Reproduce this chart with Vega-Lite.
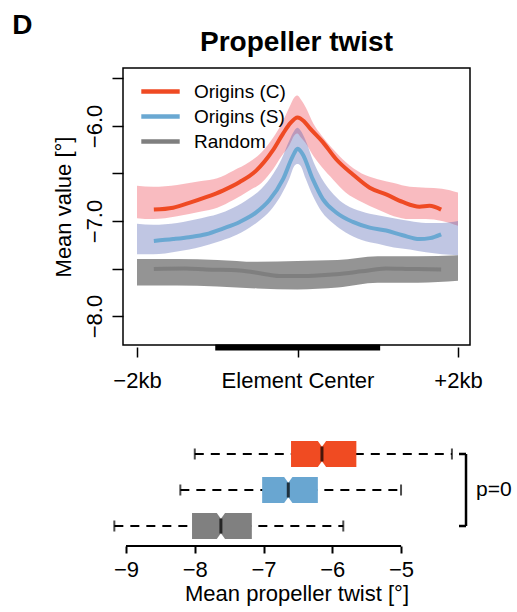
{
  "$schema": "https://vega.github.io/schema/vega-lite/v6.json",
  "padding": {"left": 12, "top": 12, "right": 5, "bottom": 2},
  "bounds": "flush",
  "spacing": 89,
  "resolve": {"scale": {"color": "independent", "x": "independent", "y": "independent"}, "legend": {"color": "independent"}},
  "title": {"text": "D", "anchor": "start", "frame": "bounds", "fontSize": 28, "fontWeight": "bold", "color": "black", "dx": -39, "offset": -12},
  "config": {"font": "Liberation Sans", "view": {"stroke": null}, "axis": {"labelColor": "black", "titleColor": "black", "tickColor": "black", "grid": false}},
  "datasets": {
    "bands": [
      {"series": "Origins (C)", "bp": -2000, "hi": -6.63, "lo": -6.97},
      {"series": "Origins (C)", "bp": -1800, "hi": -6.64, "lo": -6.98},
      {"series": "Origins (C)", "bp": -1500, "hi": -6.62, "lo": -6.95},
      {"series": "Origins (C)", "bp": -1200, "hi": -6.58, "lo": -6.9},
      {"series": "Origins (C)", "bp": -1000, "hi": -6.55, "lo": -6.86},
      {"series": "Origins (C)", "bp": -800, "hi": -6.47, "lo": -6.78},
      {"series": "Origins (C)", "bp": -600, "hi": -6.38, "lo": -6.68},
      {"series": "Origins (C)", "bp": -450, "hi": -6.28, "lo": -6.6},
      {"series": "Origins (C)", "bp": -300, "hi": -6.12, "lo": -6.45},
      {"series": "Origins (C)", "bp": -200, "hi": -5.98, "lo": -6.32},
      {"series": "Origins (C)", "bp": -100, "hi": -5.8, "lo": -6.2},
      {"series": "Origins (C)", "bp": -40, "hi": -5.7, "lo": -6.1},
      {"series": "Origins (C)", "bp": 0, "hi": -5.68, "lo": -6.08},
      {"series": "Origins (C)", "bp": 40, "hi": -5.72, "lo": -6.12},
      {"series": "Origins (C)", "bp": 100, "hi": -5.8, "lo": -6.18},
      {"series": "Origins (C)", "bp": 200, "hi": -5.98, "lo": -6.32},
      {"series": "Origins (C)", "bp": 300, "hi": -6.1, "lo": -6.43},
      {"series": "Origins (C)", "bp": 450, "hi": -6.25, "lo": -6.57},
      {"series": "Origins (C)", "bp": 600, "hi": -6.38, "lo": -6.7},
      {"series": "Origins (C)", "bp": 800, "hi": -6.5, "lo": -6.8},
      {"series": "Origins (C)", "bp": 1000, "hi": -6.56, "lo": -6.88},
      {"series": "Origins (C)", "bp": 1200, "hi": -6.6, "lo": -6.95},
      {"series": "Origins (C)", "bp": 1400, "hi": -6.64, "lo": -6.98},
      {"series": "Origins (C)", "bp": 1600, "hi": -6.65, "lo": -6.98},
      {"series": "Origins (C)", "bp": 1800, "hi": -6.66, "lo": -7.0},
      {"series": "Origins (C)", "bp": 2000, "hi": -6.7, "lo": -7.05},
      {"series": "Origins (S)", "bp": -2000, "hi": -7.03, "lo": -7.35},
      {"series": "Origins (S)", "bp": -1800, "hi": -7.04, "lo": -7.35},
      {"series": "Origins (S)", "bp": -1500, "hi": -7.02, "lo": -7.32},
      {"series": "Origins (S)", "bp": -1200, "hi": -6.97, "lo": -7.27},
      {"series": "Origins (S)", "bp": -1000, "hi": -6.93, "lo": -7.22},
      {"series": "Origins (S)", "bp": -800, "hi": -6.86, "lo": -7.16},
      {"series": "Origins (S)", "bp": -600, "hi": -6.76, "lo": -7.07},
      {"series": "Origins (S)", "bp": -450, "hi": -6.66, "lo": -6.98},
      {"series": "Origins (S)", "bp": -300, "hi": -6.5, "lo": -6.85},
      {"series": "Origins (S)", "bp": -200, "hi": -6.35, "lo": -6.72},
      {"series": "Origins (S)", "bp": -100, "hi": -6.15, "lo": -6.55},
      {"series": "Origins (S)", "bp": -40, "hi": -6.05, "lo": -6.42},
      {"series": "Origins (S)", "bp": 0, "hi": -6.02, "lo": -6.4},
      {"series": "Origins (S)", "bp": 40, "hi": -6.05, "lo": -6.42},
      {"series": "Origins (S)", "bp": 100, "hi": -6.15, "lo": -6.55},
      {"series": "Origins (S)", "bp": 200, "hi": -6.38, "lo": -6.75},
      {"series": "Origins (S)", "bp": 300, "hi": -6.55, "lo": -6.9},
      {"series": "Origins (S)", "bp": 450, "hi": -6.72, "lo": -7.03},
      {"series": "Origins (S)", "bp": 600, "hi": -6.83, "lo": -7.12},
      {"series": "Origins (S)", "bp": 800, "hi": -6.9, "lo": -7.2},
      {"series": "Origins (S)", "bp": 1000, "hi": -6.94, "lo": -7.24},
      {"series": "Origins (S)", "bp": 1200, "hi": -6.97, "lo": -7.28},
      {"series": "Origins (S)", "bp": 1400, "hi": -7.0, "lo": -7.3},
      {"series": "Origins (S)", "bp": 1600, "hi": -7.02, "lo": -7.33},
      {"series": "Origins (S)", "bp": 1800, "hi": -7.02, "lo": -7.35},
      {"series": "Origins (S)", "bp": 2000, "hi": -7.0, "lo": -7.36},
      {"series": "Random", "bp": -2000, "hi": -7.4, "lo": -7.68},
      {"series": "Random", "bp": -1500, "hi": -7.4, "lo": -7.68},
      {"series": "Random", "bp": -1000, "hi": -7.41, "lo": -7.69},
      {"series": "Random", "bp": -500, "hi": -7.43, "lo": -7.71},
      {"series": "Random", "bp": 0, "hi": -7.42, "lo": -7.72},
      {"series": "Random", "bp": 500, "hi": -7.41, "lo": -7.7},
      {"series": "Random", "bp": 1000, "hi": -7.37, "lo": -7.65},
      {"series": "Random", "bp": 1500, "hi": -7.37, "lo": -7.65},
      {"series": "Random", "bp": 2000, "hi": -7.36, "lo": -7.63}
    ],
    "lines": [
      {"series": "Origins (C)", "bp": -1790, "value": -6.88},
      {"series": "Origins (C)", "bp": -1550, "value": -6.86},
      {"series": "Origins (C)", "bp": -1350, "value": -6.81},
      {"series": "Origins (C)", "bp": -1140, "value": -6.75},
      {"series": "Origins (C)", "bp": -930, "value": -6.68},
      {"series": "Origins (C)", "bp": -720, "value": -6.59},
      {"series": "Origins (C)", "bp": -515, "value": -6.47},
      {"series": "Origins (C)", "bp": -310, "value": -6.26},
      {"series": "Origins (C)", "bp": -180, "value": -6.08},
      {"series": "Origins (C)", "bp": -90, "value": -5.97},
      {"series": "Origins (C)", "bp": 0, "value": -5.91},
      {"series": "Origins (C)", "bp": 80, "value": -5.95},
      {"series": "Origins (C)", "bp": 150, "value": -6.02},
      {"series": "Origins (C)", "bp": 316, "value": -6.17},
      {"series": "Origins (C)", "bp": 482, "value": -6.35},
      {"series": "Origins (C)", "bp": 690, "value": -6.51},
      {"series": "Origins (C)", "bp": 900, "value": -6.65},
      {"series": "Origins (C)", "bp": 1105, "value": -6.72},
      {"series": "Origins (C)", "bp": 1310, "value": -6.8},
      {"series": "Origins (C)", "bp": 1520, "value": -6.85},
      {"series": "Origins (C)", "bp": 1645, "value": -6.84},
      {"series": "Origins (C)", "bp": 1790, "value": -6.88},
      {"series": "Origins (S)", "bp": -1790, "value": -7.21},
      {"series": "Origins (S)", "bp": -1550, "value": -7.19},
      {"series": "Origins (S)", "bp": -1350, "value": -7.17},
      {"series": "Origins (S)", "bp": -1140, "value": -7.14},
      {"series": "Origins (S)", "bp": -930, "value": -7.08},
      {"series": "Origins (S)", "bp": -720, "value": -7.01},
      {"series": "Origins (S)", "bp": -515, "value": -6.91},
      {"series": "Origins (S)", "bp": -350, "value": -6.78},
      {"series": "Origins (S)", "bp": -180, "value": -6.56},
      {"series": "Origins (S)", "bp": -60, "value": -6.32},
      {"series": "Origins (S)", "bp": 0, "value": -6.24},
      {"series": "Origins (S)", "bp": 60, "value": -6.29},
      {"series": "Origins (S)", "bp": 190, "value": -6.56},
      {"series": "Origins (S)", "bp": 316, "value": -6.77},
      {"series": "Origins (S)", "bp": 482, "value": -6.91},
      {"series": "Origins (S)", "bp": 690, "value": -7.01},
      {"series": "Origins (S)", "bp": 900, "value": -7.07},
      {"series": "Origins (S)", "bp": 1105, "value": -7.1},
      {"series": "Origins (S)", "bp": 1310, "value": -7.15},
      {"series": "Origins (S)", "bp": 1520, "value": -7.19},
      {"series": "Origins (S)", "bp": 1650, "value": -7.18},
      {"series": "Origins (S)", "bp": 1790, "value": -7.14},
      {"series": "Random", "bp": -1790, "value": -7.505},
      {"series": "Random", "bp": -1400, "value": -7.5},
      {"series": "Random", "bp": -1140, "value": -7.51},
      {"series": "Random", "bp": -720, "value": -7.52},
      {"series": "Random", "bp": -400, "value": -7.56},
      {"series": "Random", "bp": -200, "value": -7.58},
      {"series": "Random", "bp": 0, "value": -7.58},
      {"series": "Random", "bp": 200, "value": -7.575},
      {"series": "Random", "bp": 480, "value": -7.56},
      {"series": "Random", "bp": 800, "value": -7.53},
      {"series": "Random", "bp": 1100, "value": -7.5},
      {"series": "Random", "bp": 1400, "value": -7.505},
      {"series": "Random", "bp": 1790, "value": -7.51}
    ],
    "element": [{"start": -1025, "end": 1030}],
    "boxes": [
      {"group": "Origins (C)", "lower": -8.0, "q1": -6.6, "median": -6.15, "q3": -5.65, "upper": -4.26},
      {"group": "Origins (S)", "lower": -8.21, "q1": -7.02, "median": -6.64, "q3": -6.21, "upper": -5.0},
      {"group": "Random", "lower": -9.17, "q1": -8.04, "median": -7.62, "q3": -7.17, "upper": -5.84}
    ],
    "bracket": [{"label": "p=0", "top": "Origins (C)", "mid": "Origins (S)", "bottom": "Random"}]
  },
  "vconcat": [
    {
      "width": 347,
      "height": 277,
      "view": {"stroke": "black", "strokeWidth": 1.5},
      "title": {"text": "Propeller twist", "fontSize": 28, "fontWeight": "bold", "color": "black", "anchor": "middle", "baseline": "alphabetic", "offset": 17, "dy": 28},
      "encoding": {
        "x": {"field": "bp", "type": "quantitative", "scale": {"domain": [-2174.5, 2149.5], "nice": false, "zero": false},
          "axis": {"values": [-2000, 0, 2000], "labelExpr": "datum.value == 0 ? 'Element Center' : (datum.value < 0 ? '−2kb' : '+2kb')", "title": null, "domain": false, "tickSize": 10, "offset": 2, "tickWidth": 1.5, "labelFontSize": 22, "labelPadding": 13, "labelFlush": false, "labelOverlap": false}}
      },
      "layer": [
        {
          "data": {"name": "bands"},
          "transform": [{"filter": "datum.series == 'Origins (C)'"}],
          "mark": {"type": "area", "opacity": 0.35, "interpolate": "monotone", "color": "#EE3B4A"},
          "encoding": {
            "y": {"field": "hi", "type": "quantitative", "scale": {"domain": [-8.305, -5.39], "nice": false, "zero": false},
              "axis": {"values": [-5.5, -6, -6.5, -7, -7.5, -8], "format": ".1f", "labelExpr": "datum.value % 1 == 0 ? datum.label : ''", "labelAngle": 270, "labelAlign": "center", "labelBaseline": "alphabetic", "labelPadding": 11, "tickSize": 11, "tickWidth": 1.5, "domain": false, "labelFontSize": 22, "labelOverlap": false, "title": "Mean value [°]", "titleFontSize": 22, "titleFontWeight": "normal", "titlePadding": 8}},
            "y2": {"field": "lo"}
          }
        },
        {
          "data": {"name": "bands"},
          "transform": [{"filter": "datum.series == 'Origins (S)'"}],
          "mark": {"type": "area", "opacity": 0.35, "interpolate": "monotone", "color": "#4A5BB0"},
          "encoding": {"y": {"field": "hi", "type": "quantitative"}, "y2": {"field": "lo"}}
        },
        {
          "data": {"name": "bands"},
          "transform": [{"filter": "datum.series == 'Random'"}],
          "mark": {"type": "area", "opacity": 0.5, "interpolate": "monotone", "color": "#2A2A2A"},
          "encoding": {"y": {"field": "hi", "type": "quantitative"}, "y2": {"field": "lo"}}
        },
        {
          "data": {"name": "lines"},
          "mark": {"type": "line", "strokeWidth": 4, "interpolate": "monotone"},
          "encoding": {
            "y": {"field": "value", "type": "quantitative"},
            "color": {"field": "series", "type": "nominal", "scale": {"domain": ["Origins (C)", "Origins (S)", "Random"], "range": ["#EF4A23", "#6AA8D2", "#7F7F7F"]},
              "legend": {"orient": "none", "legendX": 27, "legendY": 13, "title": null, "symbolType": "M -2.4 0 L 2.4 0", "symbolSize": 256, "symbolStrokeWidth": 4.5, "symbolFillColor": "transparent", "labelFontSize": 19, "labelColor": "black", "labelOffset": 23, "rowPadding": 4, "padding": 0}}
          }
        },
        {
          "data": {"name": "element"},
          "mark": {"type": "rule", "strokeDash": [5, 4], "color": "#555555", "strokeWidth": 1.5},
          "encoding": {"x": {"datum": 0}}
        },
        {
          "data": {"name": "element"},
          "mark": {"type": "rule", "color": "black", "strokeWidth": 6},
          "encoding": {"x": {"field": "start", "type": "quantitative"}, "x2": {"field": "end"}, "y": {"datum": -8.33}}
        }
      ]
    },
    {
      "width": 347,
      "height": 112,
      "data": {"name": "boxes"},
      "layer": [
        {
          "mark": {"type": "rule", "strokeDash": [9, 7], "color": "black", "strokeWidth": 2},
          "encoding": {
            "x": {"field": "lower", "type": "quantitative", "scale": {"domain": [-9.044, -3.997], "nice": false, "zero": false},
              "axis": {"values": [-9, -8, -7, -6, -5], "format": "d", "domain": false, "tickSize": 7, "tickWidth": 2, "labelFontSize": 22, "labelPadding": 6, "labelFlush": false, "title": "Mean propeller twist [°]", "titleFontSize": 22, "titleFontWeight": "normal", "titlePadding": 3}},
            "x2": {"field": "upper"},
            "y": {"field": "group", "type": "nominal", "scale": {"domain": ["Origins (C)", "Origins (S)", "Random"], "paddingInner": 0.278, "paddingOuter": 0.194}, "axis": null}
          }
        },
        {
          "mark": {"type": "tick", "orient": "vertical", "color": "black", "thickness": 2, "size": 11},
          "encoding": {"x": {"field": "lower", "type": "quantitative"}, "y": {"field": "group", "type": "nominal"}}
        },
        {
          "mark": {"type": "tick", "orient": "vertical", "color": "black", "thickness": 2, "size": 11},
          "encoding": {"x": {"field": "upper", "type": "quantitative"}, "y": {"field": "group", "type": "nominal"}}
        },
        {
          "mark": {"type": "bar", "opacity": 1},
          "encoding": {
            "x": {"field": "q1", "type": "quantitative"},
            "x2": {"field": "q3"},
            "y": {"field": "group", "type": "nominal"},
            "color": {"field": "group", "type": "nominal", "scale": {"domain": ["Origins (C)", "Origins (S)", "Random"], "range": ["#F04B22", "#69A6D1", "#808080"]}, "legend": null}
          }
        },
        {
          "mark": {"type": "point", "shape": "M -1 -0.1 L 1 -0.1 L 0 1.3 Z", "size": 81, "filled": true, "color": "white", "opacity": 1, "yOffset": -13},
          "encoding": {"x": {"field": "median", "type": "quantitative"}, "y": {"field": "group", "type": "nominal"}}
        },
        {
          "mark": {"type": "point", "shape": "M -1 0.1 L 1 0.1 L 0 -1.3 Z", "size": 81, "filled": true, "color": "white", "opacity": 1, "yOffset": 13},
          "encoding": {"x": {"field": "median", "type": "quantitative"}, "y": {"field": "group", "type": "nominal"}}
        },
        {
          "mark": {"type": "tick", "orient": "vertical", "color": "black", "thickness": 3, "size": 15},
          "encoding": {"x": {"field": "median", "type": "quantitative"}, "y": {"field": "group", "type": "nominal"}}
        },
        {
          "mark": {"type": "rule", "color": "black", "strokeWidth": 2, "y": "height"},
          "encoding": {"x": {"datum": -9}, "x2": {"datum": -5}}
        },
        {
          "data": {"name": "bracket"},
          "mark": {"type": "rule", "color": "black", "strokeWidth": 2.5},
          "encoding": {"x": {"datum": -4.055}, "y": {"field": "top", "type": "nominal"}, "y2": {"field": "bottom"}}
        },
        {
          "data": {"name": "bracket"},
          "mark": {"type": "rule", "color": "black", "strokeWidth": 2.5},
          "encoding": {"x": {"datum": -4.157}, "x2": {"datum": -4.055}, "y": {"field": "top", "type": "nominal"}}
        },
        {
          "data": {"name": "bracket"},
          "mark": {"type": "rule", "color": "black", "strokeWidth": 2.5},
          "encoding": {"x": {"datum": -4.157}, "x2": {"datum": -4.055}, "y": {"field": "bottom", "type": "nominal"}}
        },
        {
          "data": {"name": "bracket"},
          "mark": {"type": "text", "align": "left", "baseline": "middle", "fontSize": 21, "color": "black"},
          "encoding": {"x": {"datum": -3.91}, "y": {"field": "mid", "type": "nominal"}, "text": {"field": "label"}}
        }
      ]
    }
  ]
}
